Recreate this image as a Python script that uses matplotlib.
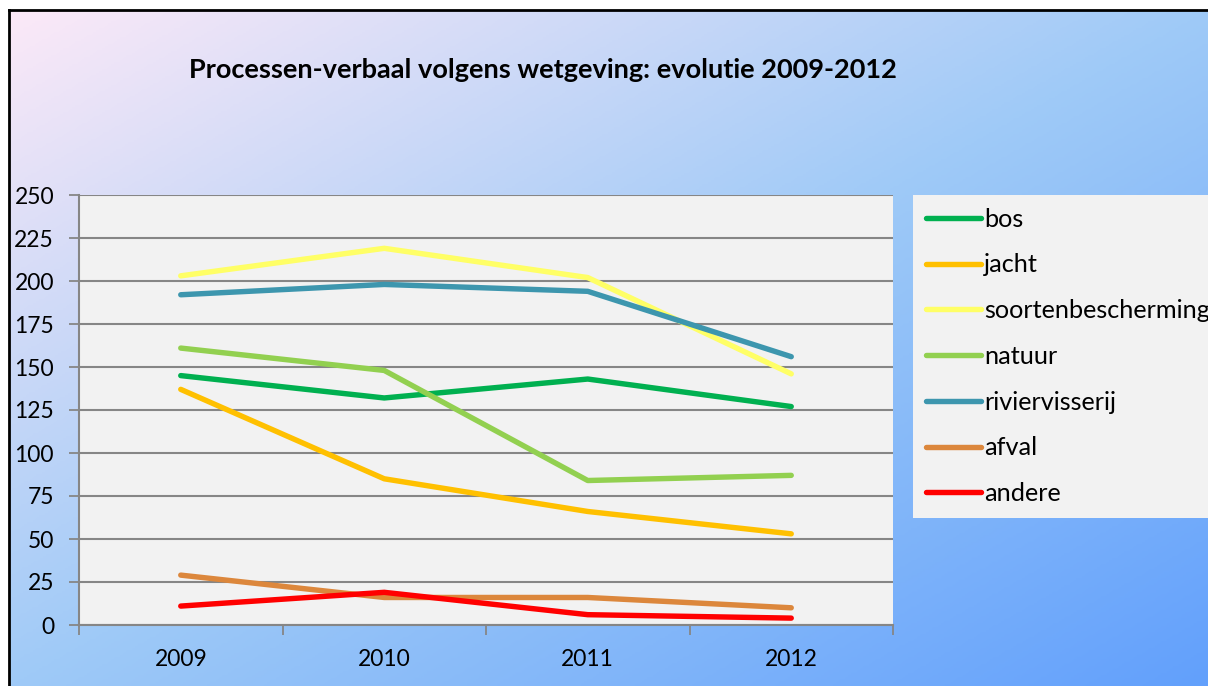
import numpy as np
import matplotlib.pyplot as plt
from matplotlib.colors import LinearSegmentedColormap

plt.rcParams['font.family'] = ['Lato', 'DejaVu Sans']

years = ['2009', '2010', '2011', '2012']
series_names = ['bos', 'jacht', 'soortenbescherming', 'natuur', 'riviervisserij', 'afval', 'andere']
bos = [145, 132, 143, 127]
jacht = [137, 85, 66, 53]
soortenbescherming = [203, 219, 202, 146]
natuur = [161, 148, 84, 87]
riviervisserij = [192, 198, 194, 156]
afval = [29, 16, 16, 10]
andere = [11, 19, 6, 4]
colors = ['#00b050', '#ffc000', '#ffff66', '#92d050', '#3d96ae', '#dc873c', '#ff0000']

W, H = 1208, 686
fig = plt.figure(figsize=(W / 100, H / 100), dpi=100)
fig.patch.set_facecolor('white')

# gradient background of the chart area
bg = fig.add_axes([0, 0, 1, 1], zorder=0)
xx, yy = np.meshgrid(np.linspace(0, 1, 400), np.linspace(0, 1, 300))
t = (xx + yy) / 2
cmap = LinearSegmentedColormap.from_list('bg', [(0, '#fce9f8'), (0.5, '#9fcaf7'), (1, '#62a0fc')])
bg.imshow(t, cmap=cmap, aspect='auto', extent=[9 / W, 1, 0, 1 - 10 / H], origin='upper',
          vmin=0, vmax=1)
bg.set_xlim(0, 1)
bg.set_ylim(0, 1)
bg.axis('off')
bg.plot([9 / W, 9 / W], [0, 1 - 10 / H], color='black', lw=2)
bg.plot([9 / W, 1], [1 - 10 / H, 1 - 10 / H], color='black', lw=2)

ax = fig.add_axes([79 / W, 61 / H, (893 - 79) / W, (625 - 195) / H], zorder=2)
ax.set_facecolor('#f2f2f2')
x = np.arange(len(years)) + 0.5
data = [bos, jacht, soortenbescherming, natuur, riviervisserij, afval, andere]
for name, vals, c in zip(series_names, data, colors):
    ax.plot(x, vals, color=c, lw=3.9, label=name, solid_capstyle='round', solid_joinstyle='round')

ax.set_xlim(0, 4)
ax.set_ylim(0, 250)
ax.set_yticks(np.arange(0, 251, 25))
ax.yaxis.grid(True, color='#868686', lw=1.5)
ax.set_axisbelow(True)
ax.set_xticks(np.arange(0, 5))
ax.set_xticklabels([])
ax.set_xticks(x, minor=True)
ax.set_xticklabels(years, minor=True)
ax.tick_params(axis='x', which='major', length=7, color='#868686', width=1.3, direction='out')
ax.tick_params(axis='x', which='minor', length=0, pad=17, labelsize=16.5)
ax.tick_params(axis='y', length=7, color='#868686', width=1.3, labelsize=16.5, pad=11)
for s in ['top', 'right']:
    ax.spines[s].set_visible(False)
for s in ['left', 'bottom']:
    ax.spines[s].set_color('#868686')
    ax.spines[s].set_linewidth(1.5)

fig.text(543 / W, 1 - 70 / H, 'Processen-verbaal volgens wetgeving: evolutie 2009-2012',
         ha='center', va='center', fontsize=19.5, fontweight='bold')

leg = fig.legend(loc='upper left', bbox_to_anchor=(913 / W, 1 - 195 / H), fontsize=18.2,
                 frameon=True, fancybox=False, handlelength=2.2, handletextpad=0.1,
                 labelspacing=0.9, borderpad=0.5, borderaxespad=0)
leg.get_frame().set_facecolor('#f2f2f2')
leg.get_frame().set_edgecolor('none')
leg.get_frame().set_alpha(1)
leg.set_zorder(3)

fig.savefig('out.png', dpi=100)
